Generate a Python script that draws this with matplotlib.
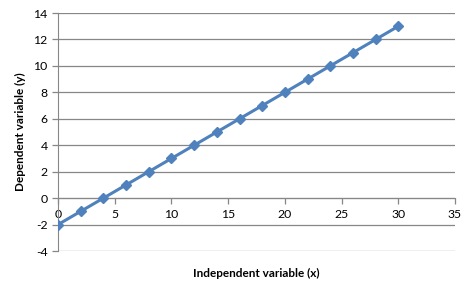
import matplotlib.pyplot as plt

x_values = [0, 2, 4, 6, 8, 10, 12, 14, 16, 18, 20, 22, 24, 26, 28, 30]
y_values = [-2, -1, 0, 1, 2, 3, 4, 5, 6, 7, 8, 9, 10, 11, 12, 13]
x_ticks = [0, 5, 10, 15, 20, 25, 30, 35]
y_ticks = [-4, -2, 0, 2, 4, 6, 8, 10, 12, 14]

plt.rcParams['font.family'] = ['Lato', 'DejaVu Sans']
plt.rcParams['axes.unicode_minus'] = False

fig = plt.figure(figsize=(4.66, 2.83), dpi=100)
ax = fig.add_axes([0.1245, 0.113, 0.852, 0.841])

ax.plot(x_values, y_values, color='#4F81BD', linewidth=2.2,
        marker='D', markersize=5.5, zorder=3)

ax.set_xlim(0, 35)
ax.set_ylim(-4, 14)
ax.set_xticks(x_ticks)
ax.set_yticks(y_ticks)
ax.grid(axis='y', color='#878787', linewidth=0.9)
ax.set_axisbelow(True)

for side in ['top', 'right']:
    ax.spines[side].set_visible(False)
ax.spines['bottom'].set_position(('data', 0))
ax.spines['bottom'].set_color('#878787')
ax.spines['left'].set_color('#878787')
ax.tick_params(colors='#878787', labelcolor='black', labelsize=8.8, length=4, width=0.9)

ax.set_xlabel('Independent variable (x)', fontsize=8.5, fontweight='bold')
ax.xaxis.set_label_coords(0.5, -0.07)
ax.set_ylabel('Dependent variable (y)', fontsize=8.5, fontweight='bold')
ax.yaxis.set_label_coords(-0.08, 0.5)

fig.savefig('out.png', dpi=100)
